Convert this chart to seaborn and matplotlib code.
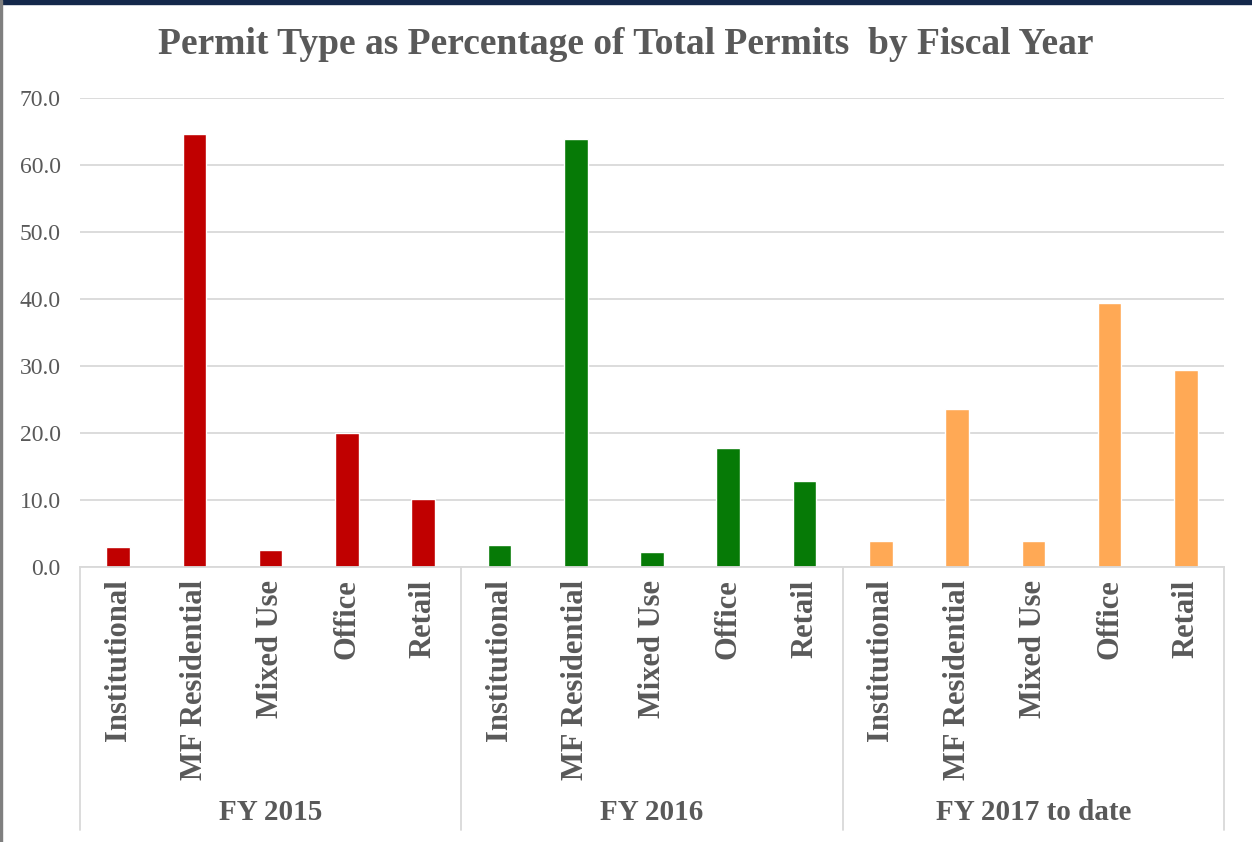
import pandas as pd
import seaborn as sns
import matplotlib.pyplot as plt
import matplotlib.patches as mpatches

# values (percent of total permits)
groups = ["FY 2015", "FY 2016", "FY 2017 to date"]
types = ["Institutional", "MF Residential", "Mixed Use", "Office", "Retail"]
fy2015 = [3.0, 64.7, 2.6, 20.0, 10.1]
fy2016 = [3.3, 63.9, 2.2, 17.8, 12.8]
fy2017 = [3.9, 23.6, 3.9, 39.4, 29.4]
colors = ["#C00000", "#067A06", "#FFA955"]

rows = []
for g, vals in zip(groups, [fy2015, fy2016, fy2017]):
    for t, v in zip(types, vals):
        rows.append({"group": g, "type": t, "key": g + "|" + t, "pct": v})
df = pd.DataFrame(rows)

sns.set_style("white")
plt.rcParams['font.family'] = ['Liberation Serif', 'DejaVu Serif']

fig = plt.figure(figsize=(12.52, 8.42), dpi=100)
ax = fig.add_axes([80 / 1252, 1 - 567 / 842, (1224 - 80) / 1252, (567 - 98) / 842])

sns.barplot(data=df, x="key", y="pct", hue="group", palette=colors,
            dodge=False, width=0.31, legend=False, ax=ax, saturation=1)

ax.set_ylim(0, 70)
ax.set_xlim(-0.5, len(df) - 0.5)
ax.set_yticks(range(0, 71, 10))
ax.set_yticklabels([f"{v:.1f}" for v in range(0, 71, 10)], fontsize=17, color="#595959")
ax.set_xticks(range(len(df)))
ax.set_xticklabels(df["type"], rotation=90, fontsize=22, fontweight="bold",
                   color="#595959", va="top")
ax.tick_params(axis="both", length=0)
ax.tick_params(axis="x", pad=9)
ax.tick_params(axis="y", pad=14)
ax.set_xlabel("")
ax.set_ylabel("")
ax.grid(axis="y", color="#D9D9D9", linewidth=1.3)
ax.set_axisbelow(True)
for s in ["left", "right", "top"]:
    ax.spines[s].set_visible(False)
ax.spines["bottom"].set_color("#D9D9D9")
ax.spines["bottom"].set_linewidth(1.3)

# group separators and group labels below the axis
tr = ax.get_xaxis_transform()
depth = -(830 - 567) / (567 - 98)
for i in range(len(groups) + 1):
    ax.plot([i * 5 - 0.5, i * 5 - 0.5], [0, depth], transform=tr, clip_on=False,
            color="#D9D9D9", linewidth=1.3)
for i, g in enumerate(groups):
    ax.text(i * 5 + 2, -(813 - 567) / (567 - 98), g, transform=tr, ha="center",
            va="center", fontsize=21, fontweight="bold", color="#595959")

fig.text(0.5, 1 - 45 / 842, "Permit Type as Percentage of Total Permits  by Fiscal Year",
         ha="center", va="center", fontsize=27, fontweight="bold", color="#595959")

# screenshot frame
fig.patches.append(mpatches.Rectangle((0, 1 - 4 / 842), 1, 4 / 842, transform=fig.transFigure,
                                      color="#14284B", zorder=5))
fig.patches.append(mpatches.Rectangle((0, 0), 2 / 1252, 1, transform=fig.transFigure,
                                      color="#7F7F7F", zorder=5))

plt.savefig("out.png", dpi=100)
